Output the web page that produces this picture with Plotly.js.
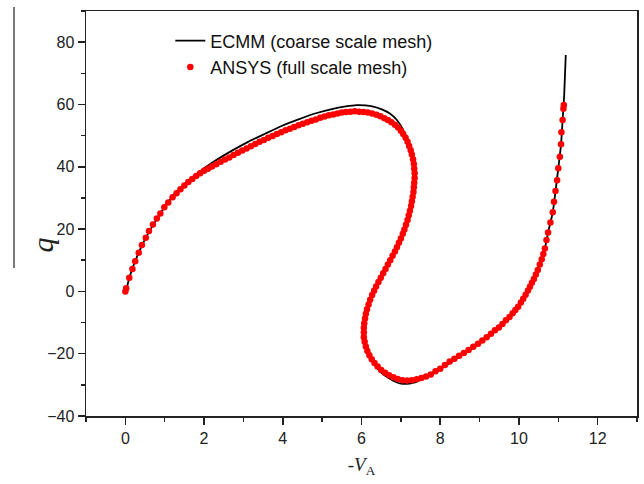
<!DOCTYPE html>
<html><head><meta charset="utf-8">
<script src="https://cdn.plot.ly/plotly-3.0.1.min.js"></script>
<style>html,body{margin:0;padding:0;background:#fff}#chart{width:644px;height:484px}</style>
</head><body><div id="chart"></div>
<script>
// ECMM (coarse scale mesh) - solid black line
const ecmmX = [0,0.03,0.10,0.33,0.58,0.84,1.09,1.43,1.85,2.28,2.7,3.12,3.55,3.97,4.4,4.82,5.3,5.6,5.88,6.1,6.3,6.5,6.72,6.9,7.06,7.16,7.23,7.29,7.32,7.34,7.31,7.18,6.88,6.5,6.21,6.08,6.05,6.16,6.39,6.55,6.72,6.86,7.0,7.15,7.3,7.45,7.57,7.8,8.0,8.25,8.76,9.18,9.52,9.77,9.98,10.15,10.28,10.40,10.53,10.66,10.74,10.86,10.93,11.0,11.07,11.11,11.15,11.19];
const ecmmY = [0,0.8,4.4,12.2,18.6,24.0,28.8,33.6,38.1,41.9,45.1,48.0,50.6,53.1,55.2,57.1,58.7,59.4,59.8,59.7,59.3,58.5,57.1,55.0,51.8,48.6,45.4,42.0,39.0,35.5,30.5,21.8,13.3,4.7,-2.8,-9.2,-14.6,-20.0,-24.6,-26.6,-28.0,-29.0,-29.6,-29.7,-29.4,-28.7,-28.0,-26.6,-25.0,-23.0,-18.7,-14.9,-11.6,-8.3,-5.0,-1.7,1.5,4.5,8.8,13.8,18.9,25.4,32.2,39.5,47.2,55.0,63.0,75.9];

// ANSYS (full scale mesh) - red dots
const ansysX = [0.00,0.02,0.10,0.18,0.25,0.34,0.42,0.52,0.60,0.70,0.80,0.89,0.99,1.09,1.20,1.30,1.40,1.50,1.60,1.70,1.80,1.90,2.00,2.10,2.20,2.31,2.42,2.53,2.64,2.75,2.86,2.97,3.08,3.19,3.30,3.41,3.52,3.63,3.74,3.85,3.96,4.07,4.18,4.29,4.40,4.51,4.62,4.73,4.84,4.95,5.06,5.17,5.28,5.39,5.50,5.61,5.72,5.83,5.94,6.05,6.16,6.27,6.38,6.48,6.58,6.67,6.76,6.85,6.93,7.00,7.06,7.12,7.17,7.21,7.25,7.28,7.31,7.33,7.34,7.35,7.35,7.34,7.33,7.32,7.30,7.28,7.26,7.23,7.20,7.17,7.13,7.09,7.05,7.00,6.95,6.90,6.85,6.79,6.73,6.67,6.61,6.55,6.49,6.43,6.37,6.32,6.27,6.22,6.18,6.14,6.11,6.09,6.07,6.06,6.06,6.06,6.08,6.11,6.15,6.20,6.26,6.33,6.41,6.50,6.60,6.70,6.81,6.92,7.04,7.16,7.28,7.40,7.52,7.64,7.76,7.88,8.00,8.12,8.24,8.36,8.48,8.60,8.72,8.84,8.96,9.07,9.18,9.29,9.39,9.49,9.58,9.67,9.76,9.84,9.91,9.98,10.05,10.11,10.17,10.23,10.28,10.33,10.38,10.43,10.48,10.53,10.58,10.62,10.66,10.70,10.74,10.80,10.86,10.89,10.93,10.97,11.00,11.04,11.07,11.08,11.11,11.13,11.14];
const ansysY = [0.0,1.0,4.4,7.2,9.7,12.4,14.9,17.2,19.4,21.5,23.4,25.0,27.0,28.5,30.2,31.5,32.8,34.0,35.1,36.1,37.0,37.9,38.7,39.4,40.1,40.8,41.6,42.3,43.0,43.8,44.5,45.2,45.9,46.6,47.3,48.0,48.6,49.3,49.9,50.5,51.1,51.7,52.2,52.8,53.3,53.8,54.3,54.8,55.2,55.7,56.1,56.5,56.8,57.1,57.4,57.6,57.7,57.8,57.7,57.6,57.4,57.1,56.7,56.2,55.6,55.0,54.3,53.5,52.6,51.6,50.5,49.3,48.0,46.7,45.3,43.9,42.4,40.9,39.4,37.9,36.4,34.9,33.4,31.9,30.4,28.9,27.4,25.9,24.4,22.9,21.4,19.9,18.5,17.0,15.6,14.2,12.8,11.4,10.0,8.6,7.2,5.8,4.4,3.0,1.6,0.2,-1.2,-2.7,-4.2,-5.7,-7.2,-8.7,-10.2,-11.7,-13.2,-14.7,-16.2,-17.7,-19.1,-20.5,-21.8,-23.0,-24.1,-25.2,-26.1,-26.9,-27.6,-28.1,-28.5,-28.6,-28.5,-28.2,-27.8,-27.3,-26.7,-25.6,-24.8,-23.6,-22.5,-21.6,-20.7,-19.8,-18.8,-17.8,-16.8,-15.8,-14.7,-13.6,-12.5,-11.6,-10.5,-9.3,-8.2,-7.0,-6.0,-4.9,-3.6,-2.4,-1.1,0.3,1.5,2.8,4.0,5.4,6.9,8.6,10.3,12.0,13.8,16.5,18.9,22.1,25.4,28.8,32.2,35.7,39.5,43.2,47.2,51.1,55.0,58.6,59.8];

const xTicks = [0,2,4,6,8,10,12];
const yTicks = [-40,-20,0,20,40,60,80];

const tickFont = {family: 'Liberation Sans, Arial, sans-serif', size: 16, color: '#222'};

const data = [
  {x: ecmmX, y: ecmmY, mode: 'lines', name: 'ECMM (coarse scale mesh)',
   line: {color: '#000', width: 1.8, shape: 'spline', smoothing: 0.5}},
  {x: ansysX, y: ansysY, mode: 'markers', name: 'ANSYS (full scale mesh)',
   marker: {color: '#ff0000', size: 6.5}}
];

const pw = 551, ph = 405;
const layout = {
  width: 644, height: 484,
  margin: {l: 86, r: 7, t: 11, b: 68},
  paper_bgcolor: '#fff', plot_bgcolor: '#fff',
  showlegend: true,
  legend: {x: 0.153, y: 0.972, xanchor: 'left', yanchor: 'top',
           font: {family: 'Liberation Sans, Arial, sans-serif', size: 18, color: '#111'},
           bgcolor: 'rgba(0,0,0,0)', borderwidth: 0, tracegroupgap: 0},
  xaxis: {range: [-1, 13], tickvals: xTicks, ticks: 'outside', ticklen: 7, tickwidth: 1.5,
          tickcolor: '#222', showline: true, linecolor: '#222', linewidth: 1.5, mirror: true,
          showgrid: false, zeroline: false, tickfont: tickFont,
          minor: {dtick: 1, ticks: 'outside', ticklen: 4, tickwidth: 1.5, tickcolor: '#222', showgrid: false},
          title: {text: '-<i>V</i><sub>A</sub>', font: {family: 'Liberation Serif, serif', size: 19, color: '#222'}, standoff: 12}},
  yaxis: {range: [-40, 90], tickvals: yTicks, ticks: 'outside', ticklen: 7, tickwidth: 1.5,
          tickcolor: '#222', showline: true, linecolor: '#222', linewidth: 1.5, mirror: true,
          showgrid: false, zeroline: false, tickfont: tickFont,
          minor: {dtick: 10, ticks: 'outside', ticklen: 4, tickwidth: 1.5, tickcolor: '#222', showgrid: false}},
  annotations: [
    {xref: 'paper', yref: 'paper', x: (24 - 86) / pw, y: (416 - 245) / ph, text: '<i>q</i>',
     showarrow: false, textangle: -90, font: {family: 'Liberation Serif, serif', size: 30, color: '#222'}}
  ],
  shapes: [
    {type: 'line', xref: 'paper', yref: 'paper', x0: (14 - 86) / pw, x1: (14 - 86) / pw,
     y0: (416 - 7) / ph, y1: (416 - 268) / ph, line: {color: '#222', width: 1.2}}
  ]
};

Plotly.newPlot('chart', data, layout, {displayModeBar: false, staticPlot: true});
</script></body></html>
